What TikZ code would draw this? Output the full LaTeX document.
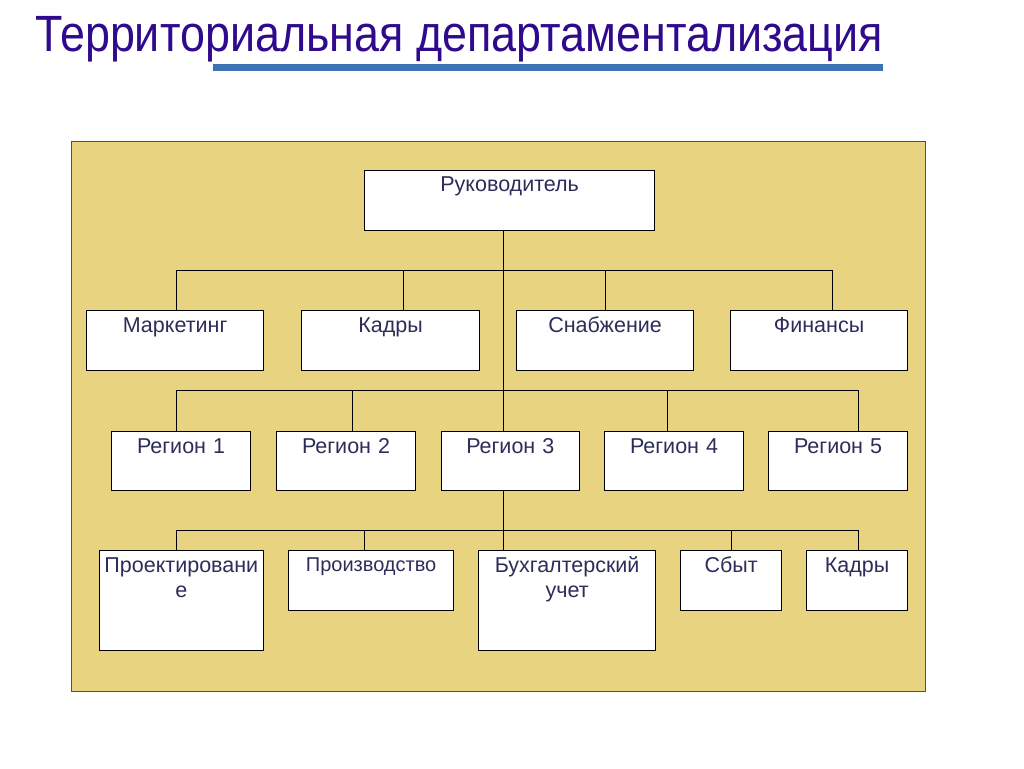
\documentclass[tikz,border=0pt]{standalone}
\usepackage{fontspec}
\setmainfont{Liberation Sans}
\newfontfamily\headfont[FakeStretch=0.88]{Liberation Sans}
\usetikzlibrary{positioning}
\definecolor{panel}{RGB}{232,211,128}
\definecolor{panelline}{RGB}{90,80,60}
\definecolor{unittext}{RGB}{45,45,90}
\definecolor{headcol}{RGB}{48,10,140}
\definecolor{barcol}{RGB}{58,116,180}

\begin{document}
\begin{tikzpicture}[x=1pt, y=1pt]
\tikzstyle{unit} = [rectangle, draw=black, line width=1.2pt, fill=white, inner sep=0pt, align=center, text=unittext, font=\fontsize{21.5}{25}\selectfont, text height=22pt, anchor=north west]
\tikzstyle{line} = [draw, line width=1pt]

\useasboundingbox (0,0) rectangle (1024,-768);

% title and bar
\node (head) [anchor=base west, inner sep=0pt, text=headcol, font=\headfont\fontsize{51}{51}\selectfont] at (35,-51.7) {Территориальная департаментализация};
\fill[barcol] (213,-64) rectangle (883,-71);

% panel
\draw[fill=panel, draw=panelline, line width=1pt] (71.5,-141.5) rectangle (925,-691);

% head of the firm
\node (ruk) [unit, text width=290pt, text height=21.5pt, text depth=39pt] at (364,-169.5) {Руководитель};

% functions
\node (mark) [unit, text width=177pt, text depth=38pt] at (86,-310) {Маркетинг};
\node (kadr) [unit, text width=178pt, text depth=38pt] at (301,-310) {Кадры};
\node (snab) [unit, text width=177pt, text depth=38pt] at (516,-310) {Снабжение};
\node (fin) [unit, text width=177pt, text depth=38pt] at (730,-310) {Финансы};

% regions
\node (reg1) [unit, text width=139pt, text depth=37.5pt] at (111,-430.5) {Регион 1};
\node (reg2) [unit, text width=139pt, text depth=37.5pt] at (276,-430.5) {Регион 2};
\node (reg3) [unit, text width=138.5pt, text depth=37.5pt] at (440.5,-430.5) {Регион 3};
\node (reg4) [unit, text width=139pt, text depth=37.5pt] at (604,-430.5) {Регион 4};
\node (reg5) [unit, text width=139pt, text depth=37.5pt] at (768,-430.5) {Регион 5};

% departments of a region
\node (proj) [unit, text width=164.5pt, text depth=78pt] at (98.5,-550) {Проектировани\\е};
\node (proizv) [unit, text width=165pt, text height=21pt, text depth=39pt, font=\fontsize{20}{24}\selectfont] at (288,-550) {Производство};
\node (bukh) [unit, text width=177pt, text depth=78pt] at (478,-550) {Бухгалтерский\\учет};
\node (sbyt) [unit, text width=101pt, text depth=38pt] at (680,-550) {Сбыт};
\node (kadr2) [unit, text width=101pt, text depth=38pt] at (806,-550) {Кадры};

% connectors
\coordinate (trunk) at (503,0);
\path [line] (ruk.south -| trunk) -- (reg3.north -| trunk);
\path [line] (reg3.south -| trunk) -- (bukh.north -| trunk);

\path [line] ([xshift=1.5pt]mark.north) -- ++(0,40) -| ([xshift=13.5pt]fin.north);
\path [line] ([xshift=13pt]kadr.north) -- ++(0,40);
\path [line] (snab.north) -- ++(0,40);

\path [line] ([xshift=-4.5pt]reg1.north) -- ++(0,40) -| ([xshift=20.5pt]reg5.north);
\path [line] ([xshift=6pt]reg2.north) -- ++(0,40);
\path [line] ([xshift=-6.5pt]reg4.north) -- ++(0,40);

\path [line] ([xshift=-5pt]proj.north) -- ++(0,19.5) -| ([xshift=1.5pt]kadr2.north);
\path [line] ([xshift=-6.5pt]proizv.north) -- ++(0,19.5);
\path [line] (sbyt.north) -- ++(0,19.5);

\end{tikzpicture}
\end{document}
